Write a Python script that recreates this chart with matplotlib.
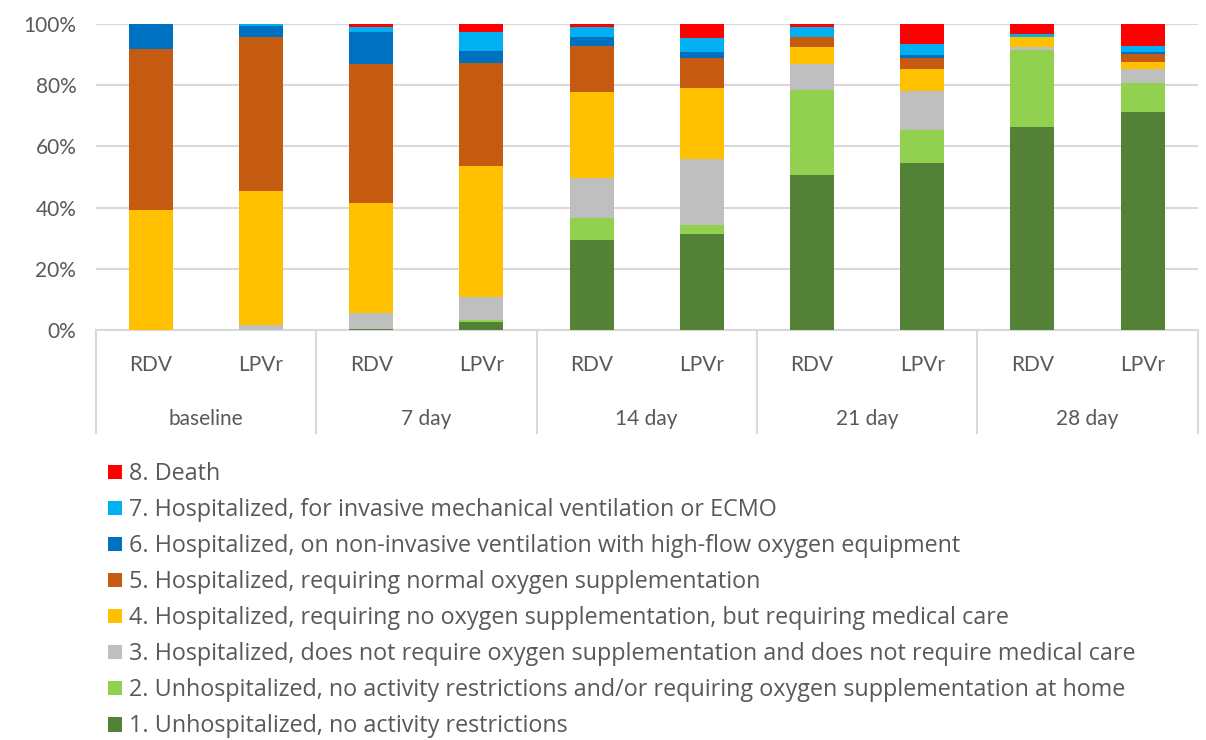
import matplotlib.pyplot as plt
from matplotlib.patches import Patch
import matplotlib.transforms as mtransforms

plt.rcParams['font.family'] = ['Lato', 'DejaVu Sans']

groups = ["baseline", "7 day", "14 day", "21 day", "28 day"]
arms = ["RDV", "LPVr"]

# percentages per bar: baseline RDV, baseline LPVr, 7d RDV, 7d LPVr, ...
s1 = [0.0, 0.0, 0.5, 2.7, 29.3, 31.5, 50.7, 54.7, 66.2, 71.4]
s2 = [0.0, 0.0, 0.0, 0.5, 7.3, 2.9, 27.8, 10.6, 25.4, 9.4]
s3 = [0.0, 1.6, 5.2, 7.6, 13.2, 21.4, 8.3, 12.9, 1.0, 4.5]
s4 = [39.2, 43.8, 35.9, 42.7, 28.0, 23.4, 5.8, 7.1, 3.3, 2.3]
s5 = [52.5, 50.2, 45.2, 33.6, 14.9, 9.8, 3.3, 3.7, 0.0, 2.5]
s6 = [8.3, 3.9, 10.7, 4.2, 3.2, 2.0, 0.0, 1.0, 0.0, 0.9]
s7 = [0.0, 0.5, 1.5, 6.2, 3.2, 4.5, 3.2, 3.4, 0.8, 1.8]
s8 = [0.0, 0.0, 1.0, 2.5, 0.9, 4.5, 0.9, 6.6, 3.3, 7.2]

series = [s1, s2, s3, s4, s5, s6, s7, s8]
labels = [
    "1. Unhospitalized, no activity restrictions",
    "2. Unhospitalized, no activity restrictions and/or requiring oxygen supplementation at home",
    "3. Hospitalized, does not require oxygen supplementation and does not require medical care",
    "4. Hospitalized, requiring no oxygen supplementation, but requiring medical care",
    "5. Hospitalized, requiring normal oxygen supplementation",
    "6. Hospitalized, on non-invasive ventilation with high-flow oxygen equipment",
    "7. Hospitalized, for invasive mechanical ventilation or ECMO",
    "8. Death",
]
colors = ["#538135", "#92D050", "#BFBFBF", "#FFC000", "#C55A11", "#0070C0", "#00B0F0", "#FF0000"]

text_col = "#595959"
grid_col = "#D9D9D9"

fig = plt.figure(figsize=(12.06, 7.4), dpi=100)
ax = fig.add_axes([0.0794, 0.554, 0.9137, 0.4136])

x = list(range(len(s1)))
bottom = [0.0] * len(x)
for vals, col, lab in zip(series, colors, labels):
    ax.bar(x, vals, width=0.4, bottom=bottom, color=col, label=lab, zorder=3)
    bottom = [b + v for b, v in zip(bottom, vals)]

ax.set_xlim(-0.5, len(x) - 0.5)
ax.set_ylim(0, 100)
ax.set_yticks(range(0, 101, 20))
ax.set_yticklabels([f"{v}%" for v in range(0, 101, 20)], fontsize=15, color=text_col)
ax.yaxis.grid(True, color=grid_col, linewidth=1.5, zorder=0)
ax.tick_params(axis='y', length=0, pad=14)
ax.set_xticks([])
for side in ["top", "right", "left"]:
    ax.spines[side].set_visible(False)
ax.spines["bottom"].set_color(grid_col)
ax.spines["bottom"].set_linewidth(1.5)

# two-level category axis
trans = mtransforms.blended_transform_factory(ax.transData, ax.transAxes)
for i in x:
    ax.text(i, -0.115, arms[i % 2], transform=trans, ha="center", va="center",
            fontsize=15, color=text_col)
for g, name in enumerate(groups):
    ax.text(2 * g + 0.5, -0.29, name, transform=trans, ha="center", va="center",
            fontsize=15, color=text_col)
for b in range(len(groups) + 1):
    ax.plot([2 * b - 0.5, 2 * b - 0.5], [0, -0.337], transform=trans, color=grid_col,
            linewidth=1.5, clip_on=False)

handles = [Patch(facecolor=c) for c in colors][::-1]
fig.legend(handles, labels[::-1], loc="upper left", bbox_to_anchor=(0.082, 0.388),
           frameon=False, prop={"family": "Open Sans", "size": 16.8}, labelcolor=text_col,
           handlelength=0.6, handleheight=0.6, handletextpad=0.3, labelspacing=0.515,
           borderaxespad=0)

fig.savefig("out.png", dpi=100)
